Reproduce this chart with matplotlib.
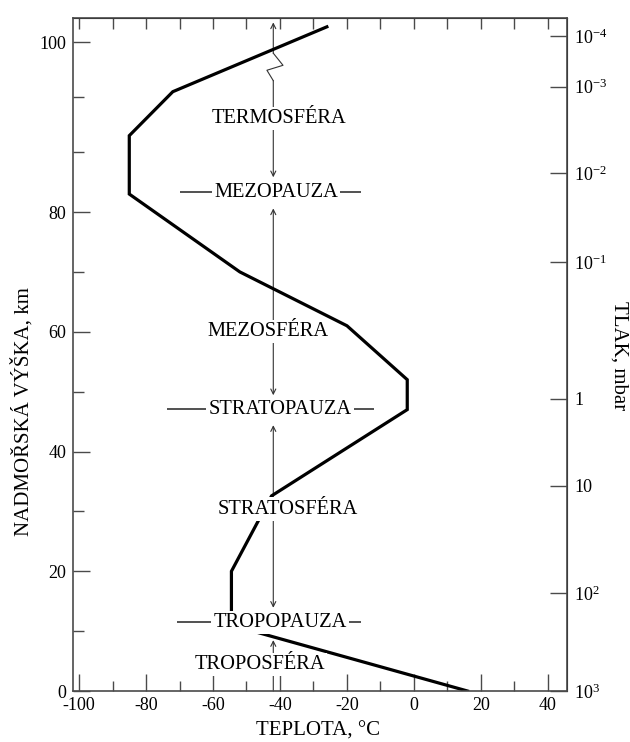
import numpy as np
import matplotlib

matplotlib.use("Agg")
import matplotlib.pyplot as plt

plt.rcParams["font.family"] = ["Liberation Serif", "DejaVu Serif"]
plt.rcParams["mathtext.fontset"] = "custom"
plt.rcParams["mathtext.rm"] = "Liberation Serif"
plt.rcParams["mathtext.it"] = "Liberation Serif:italic"
plt.rcParams["axes.unicode_minus"] = False

# temperature profile (deg C) vs altitude (km)
temp_c = [16, -54.5, -54.5, -42.5, -2, -2, -20, -52, -85, -85, -72, -26]
alt_km = [0, 11, 20, 32.6, 47, 52, 61, 70, 83, 91.5, 95.5, 101.4]

# layer names and where they sit (temperature, altitude)
layer_names = ["TERMOSFÉRA", "MEZOPAUZA", "MEZOSFÉRA", "STRATOPAUZA",
               "STRATOSFÉRA", "TROPOPAUZA", "TROPOSFÉRA"]
layer_t = [-40.4, -41.2, -43.6, -40.0, -37.8, -40.0, -46.0]
layer_z = [93.1, 83.3, 60.1, 47.1, 30.4, 11.5, 4.5]

# pause marker lines: altitude, left temp, right temp
pause_z = [83.3, 47.1, 11.5]
pause_t0 = [-69.9, -73.7, -70.7]
pause_t1 = [-15.8, -11.9, -15.8]

# right axis: pressure labels and the altitudes they are drawn at
press_labels = [r"$10^{-4}$", r"$10^{-3}$", r"$10^{-2}$", r"$10^{-1}$",
                "1", "10", r"$10^{2}$", r"$10^{3}$"]
press_z = [99.5, 91.8, 78.6, 65.1, 44.4, 31.2, 14.9, 0]

ARROW_T = -42
BREAK = 90.0
K = 1.836  # stretch of the axis above the break


def fwd(z):
    z = np.asarray(z, dtype=float)
    return np.where(z <= BREAK, z, BREAK + (z - BREAK) * K)


def inv(v):
    v = np.asarray(v, dtype=float)
    return np.where(v <= BREAK, v, BREAK + (v - BREAK) / K)


fig = plt.figure(figsize=(6.3, 7.42), dpi=100)
ax = fig.add_axes([0.1159, 0.0687, 0.7841, 0.907])
ax.set_yscale("function", functions=(fwd, inv))
ax.set_xlim(-101.8, 45.7)
ax.set_ylim(0, 102.2)

spine_col = "#4a4a4a"
for s in ax.spines.values():
    s.set_color(spine_col)
    s.set_linewidth(1.2)

# profile
ax.plot(temp_c, alt_km, color="black", lw=2.3, zorder=2,
        solid_joinstyle="miter")

# vertical arrows between the pauses
thin = dict(color="#333333", lw=0.8, shrinkA=0, shrinkB=0, mutation_scale=9)
ax.annotate("", xy=(ARROW_T, 8.5), xytext=(ARROW_T, 0),
            arrowprops=dict(arrowstyle="->", **thin), zorder=1)
ax.annotate("", xy=(ARROW_T, 13.9), xytext=(ARROW_T, 44.4),
            arrowprops=dict(arrowstyle="<->", **thin), zorder=1)
ax.annotate("", xy=(ARROW_T, 49.4), xytext=(ARROW_T, 80.6),
            arrowprops=dict(arrowstyle="<->", **thin), zorder=1)
ax.annotate("", xy=(ARROW_T, 85.8), xytext=(ARROW_T, 96.5),
            arrowprops=dict(arrowstyle="->", **thin), zorder=1)
ax.annotate("", xy=(ARROW_T, 101.8), xytext=(ARROW_T, 99.0),
            arrowprops=dict(arrowstyle="->", **thin), zorder=1)
# break mark on the arrow
ax.plot([ARROW_T, -39.1, -43.9, ARROW_T], [99.0, 97.9, 97.45, 96.5],
        color="#333333", lw=0.8, zorder=1)

# pause level dashes
ax.hlines(pause_z, pause_t0, pause_t1, color="#333333", lw=1.2, zorder=1)

for name, t, z in zip(layer_names, layer_t, layer_z):
    ax.text(t, z, name, ha="center", va="center", fontsize=14.7, zorder=4,
            bbox=dict(boxstyle="square,pad=0.1", fc="white", ec="none"))

# ticks
ax.set_xticks(np.arange(-100, 41, 20))
ax.set_xticks(np.arange(-90, 41, 20), minor=True)
ax.set_yticks([0, 20, 40, 60, 80, 100])
ax.set_yticks([10, 30, 50, 70, 90, 95], minor=True)
ax.set_yticklabels(["0", "20", "40", "60", "80", "100"])
ax.tick_params(which="both", direction="in", colors=spine_col,
               labelcolor="black", labelsize=13, top=False, right=False)
ax.tick_params(axis="x", which="major", length=12, width=1, pad=4)
ax.tick_params(axis="x", which="minor", length=7, width=1)
ax.tick_params(axis="y", which="major", length=12, width=1, pad=5)
ax.tick_params(axis="y", which="minor", length=8, width=1)

top = ax.secondary_xaxis("top")
top.set_xticks(np.arange(-100, 41, 10))
top.tick_params(direction="in", length=8, width=1, colors=spine_col,
                labeltop=False)

right = ax.secondary_yaxis("right")
right.set_yticks(press_z)
right.set_yticklabels(press_labels)
right.tick_params(direction="in", length=12, width=1, colors=spine_col,
                  labelcolor="black", labelsize=13, pad=5)
right.yaxis.set_minor_locator(matplotlib.ticker.NullLocator())

fig.text(0.035, 0.446, "NADMOŘSKÁ VÝŠKA, km", rotation=90, ha="center",
         va="center", fontsize=15)
fig.text(0.982, 0.521, "TLAK, mbar", rotation=-90, ha="center",
         va="center", fontsize=15)
fig.text(0.505, 0.002, "TEPLOTA, °C", ha="center", va="bottom", fontsize=15)

fig.savefig("out.png", dpi=100)
